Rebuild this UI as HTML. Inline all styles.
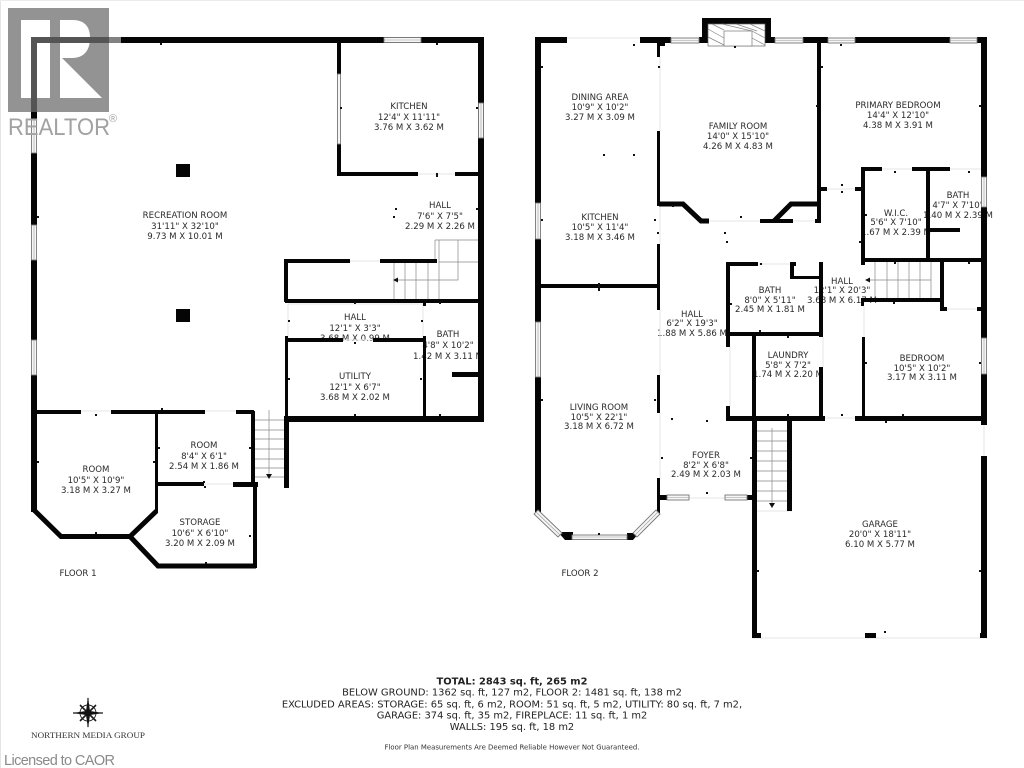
<!DOCTYPE html>
<html><head><meta charset="utf-8"><style>
html,body{margin:0;padding:0;background:#fff;width:1024px;height:768px;overflow:hidden}
svg{display:block}
.l text{font-family:"DejaVu Sans","Liberation Sans",sans-serif;font-size:8.6px;text-anchor:middle;fill:#2a2a2a}
.b text{font-family:"DejaVu Sans","Liberation Sans",sans-serif;font-size:9.9px;text-anchor:middle;fill:#222}
.w{fill:#f6f6f6;stroke:#777;stroke-width:.9}
.f{stroke:#e6e6e6;stroke-width:1;fill:none}
.s{stroke:#888;stroke-width:.7;fill:none}
.d{stroke:#050505;stroke-width:5;fill:none;stroke-linejoin:miter}
</style></head><body>
<svg width="1024" height="768" viewBox="0 0 1024 768" xmlns="http://www.w3.org/2000/svg">
<rect width="1024" height="768" fill="#fff"/>
<rect x="0" y="0" width="1" height="768" fill="#e4e4e4"/>
<rect x="0" y="0" width="1024" height="1" fill="#ececec"/>

<g class="l">
<text x="185" y="218">RECREATION ROOM</text><text x="185" y="229">31'11" X 32'10"</text><text x="185" y="239">9.73 M X 10.01 M</text>
<text x="409" y="109">KITCHEN</text><text x="409" y="120">12'4" X 11'11"</text><text x="409" y="130">3.76 M X 3.62 M</text>
<text x="440" y="208">HALL</text><text x="440" y="219">7'6" X 7'5"</text><text x="440" y="229">2.29 M X 2.26 M</text>
<text x="355" y="320">HALL</text><text x="355" y="331">12'1" X 3'3"</text><text x="355" y="341">3.68 M X 0.99 M</text>
<text x="448" y="337">BATH</text><text x="448" y="348">4'8" X 10'2"</text><text x="448" y="359">1.42 M X 3.11 M</text>
<text x="355" y="379">UTILITY</text><text x="355" y="390">12'1" X 6'7"</text><text x="355" y="400">3.68 M X 2.02 M</text>
<text x="96" y="472">ROOM</text><text x="96" y="483">10'5" X 10'9"</text><text x="96" y="493">3.18 M X 3.27 M</text>
<text x="204" y="448">ROOM</text><text x="204" y="459">8'4" X 6'1"</text><text x="204" y="469">2.54 M X 1.86 M</text>
<text x="200" y="525">STORAGE</text><text x="200" y="536">10'6" X 6'10"</text><text x="200" y="546">3.20 M X 2.09 M</text>
<text x="78" y="576">FLOOR 1</text>
<text x="600" y="100">DINING AREA</text><text x="600" y="110">10'9" X 10'2"</text><text x="600" y="120">3.27 M X 3.09 M</text>
<text x="738" y="129">FAMILY ROOM</text><text x="738" y="139">14'0" X 15'10"</text><text x="738" y="149">4.26 M X 4.83 M</text>
<text x="600" y="220">KITCHEN</text><text x="600" y="230">10'5" X 11'4"</text><text x="600" y="240">3.18 M X 3.46 M</text>
<text x="898" y="108">PRIMARY BEDROOM</text><text x="898" y="118">14'4" X 12'10"</text><text x="898" y="128">4.38 M X 3.91 M</text>
<text x="896" y="216">W.I.C.</text><text x="896" y="225">5'6" X 7'10"</text><text x="896" y="235">1.67 M X 2.39 M</text>
<text x="958" y="198">BATH</text><text x="958" y="208">4'7" X 7'10"</text><text x="958" y="218">1.40 M X 2.39 M</text>
<text x="842" y="284">HALL</text><text x="842" y="293">12'1" X 20'3"</text><text x="842" y="303">3.68 M X 6.17 M</text>
<text x="770" y="293">BATH</text><text x="770" y="303">8'0" X 5'11"</text><text x="770" y="312">2.45 M X 1.81 M</text>
<text x="788" y="358">LAUNDRY</text><text x="788" y="368">5'8" X 7'2"</text><text x="788" y="377">1.74 M X 2.20 M</text>
<text x="692" y="317">HALL</text><text x="692" y="326">6'2" X 19'3"</text><text x="692" y="336">1.88 M X 5.86 M</text>
<text x="599" y="410">LIVING ROOM</text><text x="599" y="420">10'5" X 22'1"</text><text x="599" y="429">3.18 M X 6.72 M</text>
<text x="706" y="458">FOYER</text><text x="706" y="468">8'2" X 6'8"</text><text x="706" y="477">2.49 M X 2.03 M</text>
<text x="922" y="361">BEDROOM</text><text x="922" y="371">10'5" X 10'2"</text><text x="922" y="380">3.17 M X 3.11 M</text>
<text x="880" y="527">GARAGE</text><text x="880" y="537">20'0" X 18'11"</text><text x="880" y="547">6.10 M X 5.77 M</text>
<text x="580" y="576">FLOOR 2</text>
</g>

<!-- faint door lines -->
<path class="f" d="M81 411H111M205 411H236M204 484H233M350 261H380M343 340H373M418 174H455M288 304V338M423 304V338M288 304H423
M567 38H640M660 57V131M660 205V244M709 221H760M793 221H815M827 189H855M882 169H912M950 169H981M758 264H790M823 337V367M730 347V406M825 418H855M864 306V337M947 309H977M660 310V375M660 413V478M689 498H725M984 425V456M752 638H987M757 511H792"/>

<!-- stairs floor 1 -->
<path class="s" d="M435 240H478M435 240V262M439 240V262M458 240V280H396M439 262H478M394 262V300M405 262V300M416 262V300M428 262V300M439 262V300M254 420H285M254 430H285M254 439H285M254 449H285M254 459H285M254 468H285M254 477H285M269 410V478"/>
<path d="M393 280l5-2.500v5zM266 474h6l-3 5z" fill="#111"/>
<!-- stairs floor 2 -->
<path class="s" d="M875 262V299M887 262V299M898 262V299M909 262V299M920 262V299M931 262V299M868 280H931M757 431H787M757 441H787M757 451H787M757 461H787M757 471H787M757 481H787M757 491H787M757 501H787M772 428V505"/>
<path d="M865 280l5-2.500v5zM769 503h6l-3 5z" fill="#111"/>

<!-- walls -->
<path fill="#050505" d="
M31 37H484V43H31z
M478 37H484V422H478z
M31 43H37V120H31zM31 153H37V225H31zM31 260H37V340H31zM31 375H37V512H31z
M37 410H81V414H37zM111 410H205V414H111zM236 410H254V414H236z
M155 412H158V513H155zM251 411H255V484H251z
M157 482H204V486H157zM233 482H258V487H233z
M253 486H257V568H253z
M285 416H483V422H285zM284 416H289V488H284z
M337 43H341V74H337zM337 144H341V176H337zM337 172H418V176H337zM455 172H478V176H455z
M284 259H288V302H284zM284 259H350V263H284zM380 259H437V263H380z
M285 299H478V303H285zM423 300H426V306H423z
M285 338H343V342H285zM373 338H426V342H373zM285 336H288V416H285zM423 336H426V416H423z
M452 372H478V377H452z
M535 37H567V43H535zM640 37H671V43H640zM699 37H709V43H699z
M702 18H771V24H702zM702 18H708V43H702zM765 18H771V43H765z
M765 37H775V43H765zM803 37H828V43H803zM855 37H950V43H855zM977 37H987V43H977z
M535 37H541V203H535zM535 239H541V322H535zM535 377H541V512H535z
M981 37H987V177H981zM981 207H987V338H981zM981 374H987V425H981zM981 456H987V634H981z
M657 43H660V57H657zM660 43H665V46H660z
M657 131H660V206H657z
M760 219H793V223H760zM815 219H821V223H815z
M817 43H821V223H817zM821 187H827V191H821zM855 187H861V191H855z
M657 244H660V310H657zM657 375H660V413H657zM657 478H660V515H657zM541 284H657V288H541z
M660 495H667V500H660zM747 495H752V500H747z
M558 532L565 532H573V540H565zM627 533H639L633 540H627z
M726 262H758V266H726zM790 262H796V266H790zM790 262H794V279H790zM790 276H823V279H790zM819 262H823V337H819z
M726 262H730V347H726zM726 332H823V336H726zM726 406H730V420H726zM752 336H756V420H752zM726 416H825V421H726zM819 367H823V418H819z
M855 416H985V421H855zM862 337H865V418H862z
M752 420H757V638H752zM787 420H792V511H787z
M752 633H761V638H752zM865 633H876V638H865zM980 633H987V638H980z
M861 167H865V265H861zM861 167H882V171H861zM912 167H950V171H912zM926 171H930V262H926zM930 228H960V232H930z
M861 258H981V262H861zM861 298H942V302H861zM940 262H944V310H940zM940 307H947V311H940zM977 307H982V311H977zM861 298H864V306H861z
"/>
<path class="d" d="M34 510L61 536.500H130L156.500 511"/>
<path class="d" d="M130 536.500L158 566H256"/>
<path class="d" stroke-width="4" d="M659 204H683L701 221H709"/>
<path class="d" stroke-width="4" d="M819 204H791L774 221"/>
<rect x="176" y="164" width="14" height="13" fill="#050505"/>
<rect x="176" y="309" width="14" height="13" fill="#050505"/>

<!-- windows -->
<g class="w">
<rect x="31.500" y="120" width="5" height="33"/><rect x="31.500" y="225" width="5" height="35"/><rect x="31.500" y="340" width="5" height="35"/>
<rect x="384" y="37.500" width="37" height="5"/><rect x="478.500" y="103" width="5" height="35"/><rect x="337.500" y="74" width="3" height="70"/>
<rect x="671" y="38" width="28" height="5"/><rect x="775" y="38" width="28" height="5"/><rect x="828" y="38" width="27" height="5"/><rect x="950" y="38" width="27" height="5"/>
<rect x="535.500" y="203" width="5" height="36"/><rect x="535.500" y="322" width="5" height="55"/><rect x="981.500" y="177" width="5" height="30"/><rect x="981.500" y="338" width="5" height="36"/>
<rect x="667" y="495" width="22" height="5"/><rect x="725" y="495" width="22" height="5"/><rect x="572" y="535" width="55" height="4.500"/>
<path d="M538 510L562 533L558 537L534 514zM660 514L637 537L633 533L656 510z"/>
</g>
<path stroke="#999" stroke-width=".6" fill="none" d="M34 120V153M34 225V260M34 340V375M384 40H421M481 103V138M671 40.500H699M775 40.500H803M828 40.500H855M950 40.500H977M538 203V239M538 322V377M984 177V207M984 338V374M667 497.500H689M725 497.500H747M572 537H627M536 512L560 535M658 512L635 535"/>

<!-- fireplace -->
<rect x="708" y="24" width="57" height="22" fill="#fff" stroke="#666" stroke-width=".7"/>
<path class="s" d="M708 29L724 38M708 37L724 45M712 24L724 30M722 24L752 31M736 24L757 31M750 24L765 31M752 31L765 38M752 38L765 45"/>
<rect x="724" y="31" width="28" height="15" fill="#fff" stroke="#777" stroke-width=".7"/>

<!-- small marks -->
<path fill="#111" d="M160 43h2v2h-2zM37 216h2v2h-2zM436 43h2v2h-2zM340 107h2v2h-2zM476 107h2v2h-2zM436 173h2v4h-2zM395 208h2v2h-2zM393 216h2v2h-2zM476 208h2v2h-2zM354 302h2v2h-2zM439 302h2v2h-2zM288 320h2v2h-2zM421 320h2v2h-2zM354 342h2v2h-2zM288 378h2v2h-2zM420 378h2v2h-2zM354 414h2v2h-2zM439 414h2v2h-2zM95 414h2v2h-2zM161 408h2v2h-2zM37 461h2v2h-2zM153 461h2v2h-2zM158 447h2v2h-2zM249 447h2v2h-2zM203 481h2v2h-2zM204 486h2v2h-2zM95 532h2v2h-2zM249 535h2v2h-2zM205 562h2v2h-2z
M633 44h2v2h-2zM541 66h2v2h-2zM658 66h2v2h-2zM734 46h2v2h-2zM603 154h2v2h-2zM633 154h2v2h-2zM740 216h2v2h-2zM672 205h2v2h-2zM541 219h2v2h-2zM654 219h2v2h-2zM657 232h2v2h-2zM724 232h2v2h-2zM726 241h2v2h-2zM821 66h2v2h-2zM816 105h2v2h-2zM840 44h2v2h-2zM979 105h2v2h-2zM894 171h2v2h-2zM968 171h2v2h-2zM841 184h2v2h-2zM841 191h2v2h-2zM865 214h2v2h-2zM859 241h2v2h-2zM894 262h2v2h-2zM968 262h2v2h-2zM893 302h2v2h-2zM760 263h2v2h-2zM730 303h2v2h-2zM759 330h2v2h-2zM787 336h2v2h-2zM787 414h2v2h-2zM841 414h2v2h-2zM865 362h2v2h-2zM979 362h2v2h-2zM902 414h2v2h-2zM885 421h2v2h-2zM598 283h2v8h-2zM541 399h2v2h-2zM654 399h2v2h-2zM671 418h2v2h-2zM706 420h2v2h-2zM661 457h2v2h-2zM750 457h2v2h-2zM706 492h2v2h-2zM598 533h2v2h-2zM757 570h2v2h-2zM979 570h2v2h-2zM884 631h2v2h-2z"/>

<!-- REALTOR logo overlay -->
<rect x="109" y="37" width="12" height="6" fill="#fff" opacity=".5"/>
<path fill="#6f6f6f" fill-opacity=".75" fill-rule="evenodd" d="M8 8H109V112H8zM21 20V98H50V20zM60 20V98H102L62 58H72C84 58 90 50 90 38C90 26 84 20 72 20z"/>
<path fill="#fff" fill-opacity=".32" d="M21 20V98H50V20zM60 20V98H102L62 58H72C84 58 90 50 90 38C90 26 84 20 72 20z"/>
<text x="8" y="135" font-family="Liberation Sans, sans-serif" font-size="24" fill="#a2a2a2" textLength="102" lengthAdjust="spacingAndGlyphs">REALTOR</text>
<text x="109" y="122" font-family="Liberation Sans, sans-serif" font-size="11" fill="#a2a2a2">®</text>

<!-- compass -->
<g stroke="#1a1a1a" fill="none">
<circle cx="88" cy="713" r="8" stroke-width=".9"/>
<path d="M73 713H103M88 698V727" stroke-width="1.200"/>
<path d="M80 705L96 721M96 705L80 721" stroke-width="1.600"/>
</g>
<path d="M88 697L90 711L103 713L90 715L88 728L86 715L73 713L86 711z" fill="#111"/>
<text x="88" y="738" font-family="Liberation Serif, serif" font-size="8.500" text-anchor="middle" fill="#333" textLength="114" lengthAdjust="spacingAndGlyphs">NORTHERN MEDIA GROUP</text>

<g class="b">
<text x="512" y="684.500" font-weight="bold" font-size="10">TOTAL: 2843 sq. ft, 265 m2</text>
<text x="512" y="695.500">BELOW GROUND: 1362 sq. ft, 127 m2, FLOOR 2: 1481 sq. ft, 138 m2</text>
<text x="512" y="707.500">EXCLUDED AREAS: STORAGE: 65 sq. ft, 6 m2, ROOM: 51 sq. ft, 5 m2, UTILITY: 80 sq. ft, 7 m2,</text>
<text x="512" y="718.500">GARAGE: 374 sq. ft, 35 m2, FIREPLACE: 11 sq. ft, 1 m2</text>
<text x="512" y="730">WALLS: 195 sq. ft, 18 m2</text>
</g>
<text x="512" y="749.500" font-family="DejaVu Sans, sans-serif" font-size="7" text-anchor="middle" fill="#333" textLength="255" lengthAdjust="spacingAndGlyphs">Floor Plan Measurements Are Deemed Reliable However Not Guaranteed.</text>
<text x="4" y="765" font-family="Liberation Sans, sans-serif" font-size="14.500" fill="#8a8a8a" textLength="111">Licensed to CAOR</text>
</svg>
</body></html>
